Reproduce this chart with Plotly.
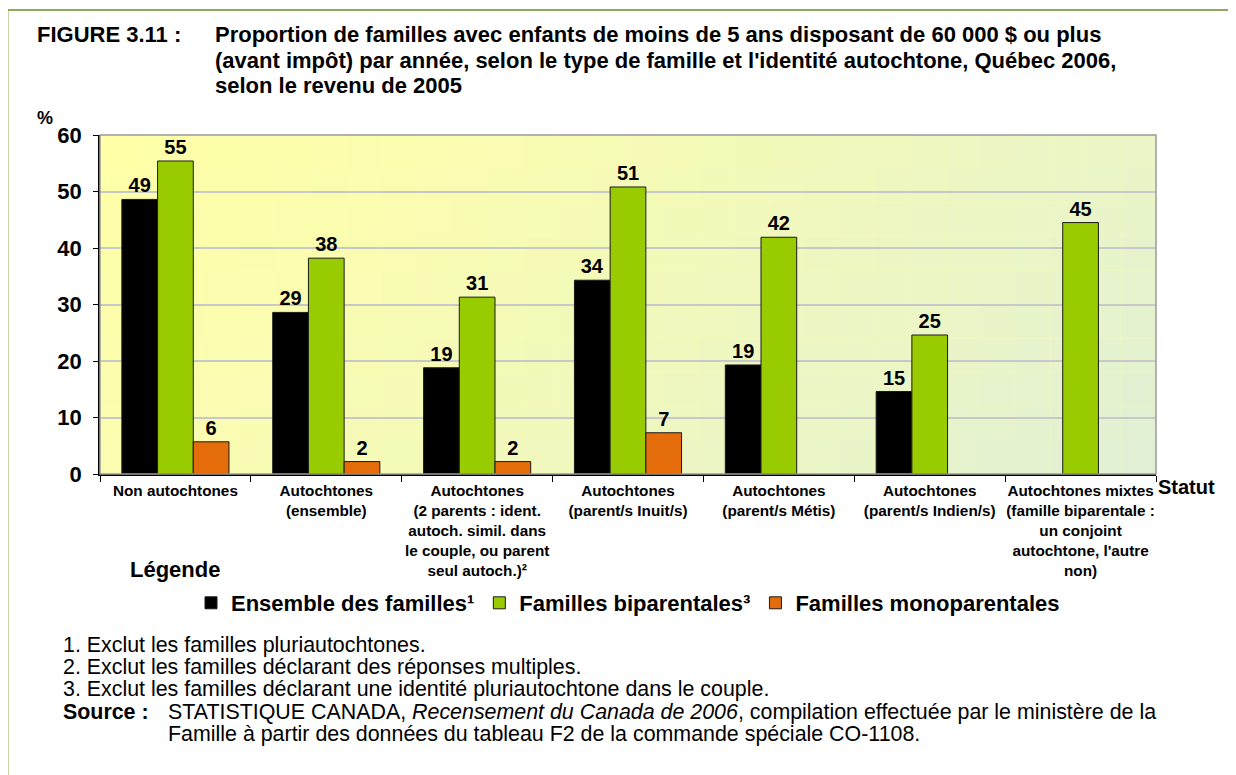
import plotly.graph_objects as go

categories = [
    "Non autochtones",
    "Autochtones<br>(ensemble)",
    "Autochtones<br>(2 parents : ident.<br>autoch. simil. dans<br>le couple, ou parent<br>seul autoch.)²",
    "Autochtones<br>(parent/s Inuit/s)",
    "Autochtones<br>(parent/s Métis)",
    "Autochtones<br>(parent/s Indien/s)",
    "Autochtones mixtes<br>(famille biparentale :<br>un conjoint<br>autochtone, l'autre<br>non)",
]
ensemble_vals = [48.6, 28.6, 18.8, 34.3, 19.3, 14.6, None]
ensemble_lbls = ["49", "29", "19", "34", "19", "15", ""]
bipar_vals = [55.4, 38.2, 31.3, 50.8, 41.9, 24.6, 44.5]
bipar_lbls = ["55", "38", "31", "51", "42", "25", "45"]
mono_vals = [5.7, 2.2, 2.2, 7.3, None, None, None]
mono_lbls = ["6", "2", "2", "7", "", "", ""]
y_ticks = [0, 10, 20, 30, 40, 50, 60]

W, H = 1236, 775
OFF = 8  # page offset of the figure in the browser
ML, MR, MT, MB = 92, 88, 127, 309
PW, PH = W - ML - MR, H - MT - MB
FONT = "Liberation Sans, Arial, sans-serif"


def px(x):
    return (x - OFF - ML) / PW


def py(y):
    return (H - MB - (y - OFF)) / PH


fig = go.Figure()
series = [
    ("Ensemble des familles¹", ensemble_vals, ensemble_lbls, "#000000"),
    ("Familles biparentales³", bipar_vals, bipar_lbls, "#99CC00"),
    ("Familles monoparentales", mono_vals, mono_lbls, "#E46C0A"),
]
for name, vals, lbls, col in series:
    fig.add_trace(go.Bar(
        x=categories, y=vals, name=name, text=lbls,
        textposition="outside", cliponaxis=False,
        textfont=dict(family=FONT, size=20, color="#000000", weight="bold"),
        marker=dict(color=col, line=dict(color="#1a1a1a", width=1)),
    ))

# gradient background (yellow -> pale green)
c0 = (255, 255, 168)
c1 = (224, 240, 214)
NX, NY = 30, 10
shapes = []
for i in range(NX):
    for j in range(NY):
        t = ((i + 0.5) / NX * 0.75 + (j + 0.5) / NY * 0.25)
        t = min(max(t, 0), 1) ** 1.3
        c = tuple(int(round(a + (b - a) * t)) for a, b in zip(c0, c1))
        shapes.append(dict(type="rect", xref="x domain", yref="y domain",
                           x0=i / NX, x1=(i + 1) / NX,
                           y0=1 - (j + 1) / NY, y1=1 - j / NY,
                           fillcolor="rgb(%d,%d,%d)" % c, line=dict(width=0),
                           layer="below"))
# plot border (top/right gray)
shapes.append(dict(type="rect", xref="x domain", yref="y domain", x0=0, x1=1, y0=0, y1=1,
                   line=dict(color="#9a9a9a", width=1.5), layer="above"))
# outer frame
shapes.append(dict(type="rect", xref="paper", yref="paper",
                   x0=px(7.5), x1=px(1260), y0=py(800), y1=py(10),
                   line=dict(color="#8FAA5A", width=2), layer="above"))

annotations = []


def ann(text, x, y, size, bold=False, xanchor="left"):
    annotations.append(dict(
        text=text, x=px(x - 2), y=py(y), xref="paper", yref="paper",
        xanchor=xanchor, yanchor="middle", showarrow=False, align="left",
        font=dict(family=FONT, size=size, color="#000000",
                  weight="bold" if bold else "normal"),
    ))


ann("FIGURE 3.11 :", 37, 34.5, 22, True)
ann("Proportion de familles avec enfants de moins de 5 ans disposant de 60 000 $ ou plus", 215, 34.5, 22, True)
ann("(avant impôt) par année, selon le type de famille et l'identité autochtone, Québec 2006,", 215, 60, 22, True)
ann("selon le revenu de 2005", 215, 85.5, 22, True)
ann("%", 37, 118, 18, True)
ann("Statut", 1158, 487, 20, True)
ann("Légende", 130, 569, 22, True)
ann("1. Exclut les familles pluriautochtones.", 63, 645, 21.4)
ann("2. Exclut les familles déclarant des réponses multiples.", 63, 667, 21.4)
ann("3. Exclut les familles déclarant une identité pluriautochtone dans le couple.", 63, 689, 21.4)
ann("<b>Source :</b>", 63, 712, 21.4)
ann("STATISTIQUE CANADA, <i>Recensement du Canada de 2006</i>, compilation effectuée par le ministère de la", 168, 712, 21.4)
ann("Famille à partir des données du tableau F2 de la commande spéciale CO-1108.", 168, 734, 21.4)

fig.update_layout(
    width=W, height=H,
    margin=dict(l=ML, r=MR, t=MT, b=MB, autoexpand=False),
    paper_bgcolor="#FFFFFF", plot_bgcolor="#FFFFB0",
    barmode="group", bargap=0.29, bargroupgap=0,
    showlegend=True,
    legend=dict(orientation="h", x=0.5, xanchor="center", y=py(603), yanchor="middle",
                font=dict(family=FONT, size=22, color="#000000", weight="bold"),
                itemwidth=30, traceorder="normal", bgcolor="rgba(0,0,0,0)"),
    shapes=shapes, annotations=annotations,
    font=dict(family=FONT, color="#000000"),
)
fig.update_xaxes(
    type="category", showline=True, linecolor="#000000", linewidth=1.5,
    ticks="outside", tickson="boundaries", ticklen=6, tickcolor="#000000",
    tickfont=dict(family=FONT, size=15.3, color="#000000", weight="bold"),
    ticklabelstandoff=2,
    showgrid=False, tickangle=0,
)
fig.update_yaxes(
    range=[0, 60], tickvals=y_ticks, showline=True, linecolor="#000000", linewidth=1.5,
    ticks="outside", ticklen=5, tickcolor="#000000",
    tickfont=dict(family=FONT, size=22, color="#000000", weight="bold"),
    ticklabelstandoff=7,
    showgrid=True, gridcolor="#C8C8C8", gridwidth=1.5, zeroline=False,
)

fig.write_html("out.html")
